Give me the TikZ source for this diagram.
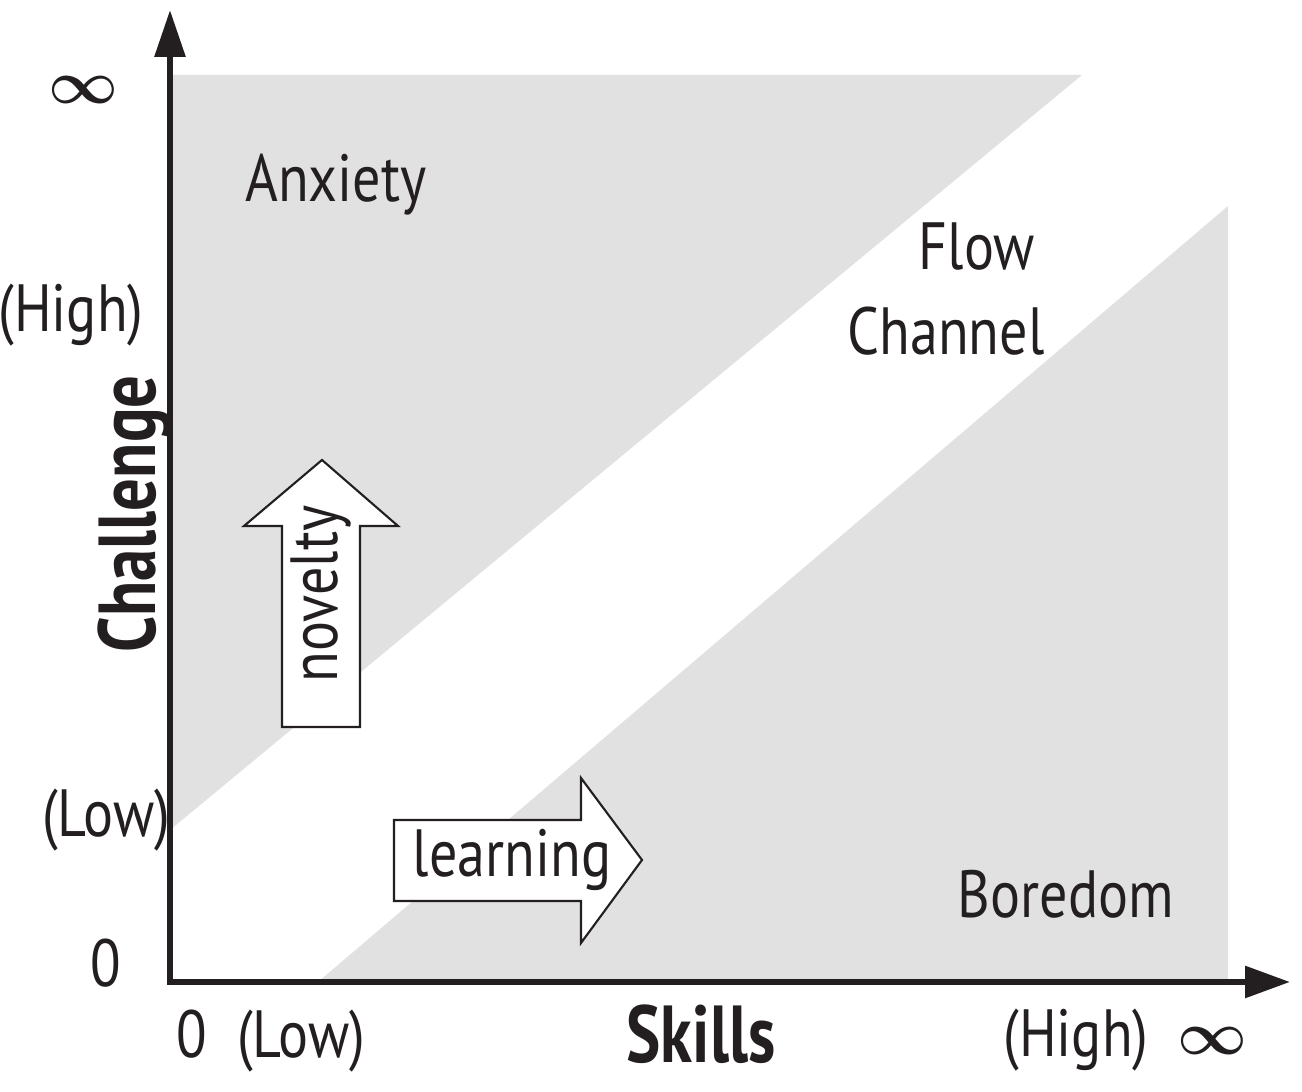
\documentclass[tikz,border=0pt]{standalone}
\usepackage{amsmath}
\usepackage{fontspec}
\setmainfont{PT Sans}[FakeStretch=0.84,BoldFeatures={FakeStretch=0.80}]
\usetikzlibrary{arrows.meta}
\definecolor{ink}{HTML}{231F20}
\definecolor{zone}{HTML}{E1E1E1}

\begin{document}
\begin{tikzpicture}[line join=miter,
  lbl/.style={font=\fontsize{19}{20}\selectfont,text=ink,inner sep=0pt,anchor=base},
  axlbl/.style={font=\fontsize{23}{24}\selectfont\bfseries,text=ink,inner sep=0pt,anchor=base},
  inf/.style={font=\fontsize{17}{18}\selectfont,text=ink,inner sep=0pt},
  blockarrow/.style={draw=ink,fill=white,line width=0.6pt}]
\path[use as bounding box] (0,0) rectangle (13.02,10.92);
% shaded zones
\fill[zone] (1.70,10.17) -- (10.82,10.17) -- (1.70,2.62) -- cycle;
\fill[zone] (3.18,1.10) -- (12.28,8.86) -- (12.28,1.10) -- cycle;
% axes
\coordinate (O) at (1.70,1.10);
\coordinate (ytip) at (1.70,10.82);
\coordinate (xtip) at (12.90,1.10);
\draw[ink,line width=1.7pt,{Triangle[length=0.47cm,width=0.30cm]}-{Triangle[length=0.45cm,width=0.31cm]}] (ytip) -- (O) -- (xtip);
% block arrows
\draw[blockarrow] (2.82,3.65) -- (3.60,3.65) -- (3.60,5.66) -- (3.98,5.66) -- (3.22,6.32) -- (2.44,5.66) -- (2.82,5.66) -- cycle;
\draw[blockarrow] (3.94,1.91) -- (5.81,1.91) -- (5.81,1.49) -- (6.42,2.32) -- (5.81,3.14) -- (5.81,2.72) -- (3.94,2.72) -- cycle;
\node[lbl,rotate=90] (novelty) at (3.37,4.98) {novelty};
\node[lbl] (learning) at (5.12,2.15) {learning};
% zone labels
\node[lbl] (anxiety) at (3.36,8.90) {Anxiety};
\node[lbl] (flow) at (9.77,8.22) {Flow};
\node[lbl] (channel) at (9.46,7.37) {Channel};
\node[lbl] (boredom) at (10.66,1.74) {Boredom};
% challenge axis labels
\node[inf] (yinf) at (0.83,10.02) {$\boldsymbol{\infty}$};
\node[lbl] (yhigh) at (0.71,7.60) {(High)};
\node[lbl] (ylow) at (1.06,2.55) {(Low)};
\node[lbl] (yzero) at (1.06,1.05) {0};
\node[axlbl,rotate=90] (challenge) at (1.55,5.78) {Challenge};
% skills axis labels
\node[lbl] (xzero) at (1.92,0.34) {0};
\node[lbl] (xlow) at (3.01,0.34) {(Low)};
\node[axlbl] (skills) at (7.01,0.29) {Skills};
\node[lbl] (xhigh) at (10.76,0.35) {(High)};
\node[inf] (xinf) at (12.12,0.51) {$\boldsymbol{\infty}$};
\end{tikzpicture}
\end{document}
